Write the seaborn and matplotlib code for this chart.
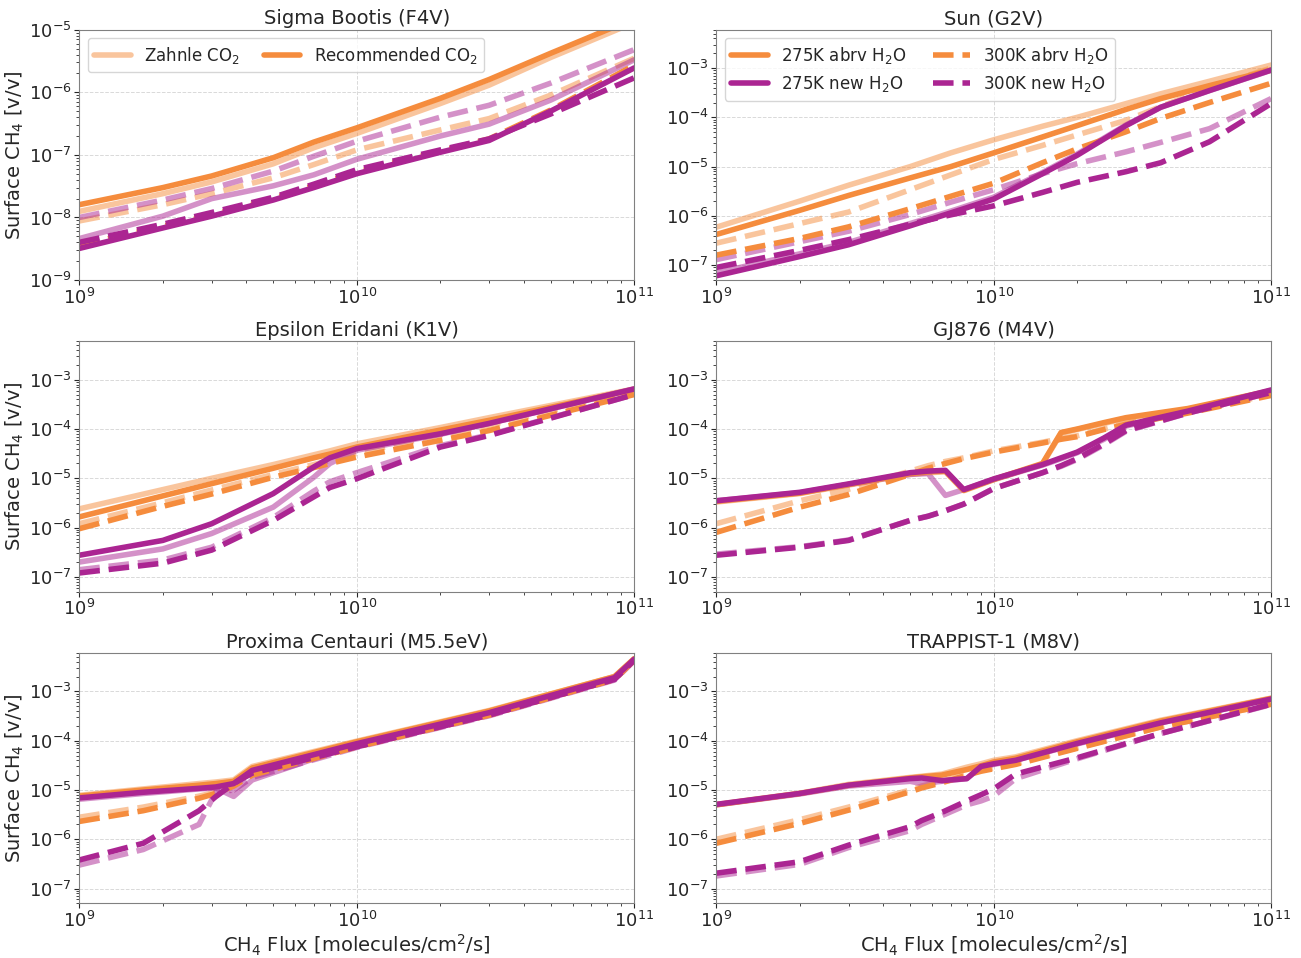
import numpy as np
import pandas as pd
import matplotlib
matplotlib.use("Agg")
import matplotlib.pyplot as plt
from matplotlib.lines import Line2D
import seaborn as sns

# ---- data ----
# series key: z/r = Zahnle / Recommended CO2, 275/300 K, a/n = abrv / new H2O

sb_x = [1e9, 2e9, 3e9, 5e9, 7e9, 1e10, 2e10, 3e10, 5e10, 1e11]
sb_z275a = [1.25e-8, 2.4e-8, 3.7e-8, 7.2e-8, 1.3e-7, 2.2e-7, 6.6e-7, 1.3e-6, 3.6e-6, 1.3e-5]
sb_z300a = [8.8e-9, 1.6e-8, 2.4e-8, 4.3e-8, 7.0e-8, 1.2e-7, 2.5e-7, 3.8e-7, 9.0e-7, 3.5e-6]
sb_z275n = [4.6e-9, 1.05e-8, 2.0e-8, 3.2e-8, 4.8e-8, 8.5e-8, 2.0e-7, 3.1e-7, 7.5e-7, 3.3e-6]
sb_z300n = [1.0e-8, 1.9e-8, 2.9e-8, 5.5e-8, 9.5e-8, 1.65e-7, 4.0e-7, 6.2e-7, 1.4e-6, 4.8e-6]
sb_r275a = [1.6e-8, 3.0e-8, 4.6e-8, 9.0e-8, 1.6e-7, 2.7e-7, 8.0e-7, 1.6e-6, 4.2e-6, 1.5e-5]
sb_r300a = [3.6e-9, 7.2e-9, 1.1e-8, 2.0e-8, 3.2e-8, 5.3e-8, 1.15e-7, 1.8e-7, 5.2e-7, 2.7e-6]
sb_r275n = [3.2e-9, 6.8e-9, 1.05e-8, 1.9e-8, 3.0e-8, 5.0e-8, 1.1e-7, 1.7e-7, 5.0e-7, 2.45e-6]
sb_r300n = [4.0e-9, 7.8e-9, 1.2e-8, 2.1e-8, 3.4e-8, 5.8e-8, 1.2e-7, 1.8e-7, 4.5e-7, 1.7e-6]

sun_x = [1e9, 2e9, 3e9, 5e9, 7e9, 1e10, 1.5e10, 2e10, 3e10, 4e10, 6e10, 1e11]
sun_z275a = [5.9e-7, 2.0e-6, 4.2e-6, 1.0e-5, 1.9e-5, 3.5e-5, 6.6e-5, 1.0e-4, 1.9e-4, 3.0e-4, 5.4e-4, 1.15e-3]
sun_z300a = [2.8e-7, 7.0e-7, 1.2e-6, 3.4e-6, 6.8e-6, 1.4e-5, 2.7e-5, 4.4e-5, 8.7e-5, 1.65e-4, 4.0e-4, 1.0e-3]
sun_z275n = [7.0e-8, 1.7e-7, 2.9e-7, 7.0e-7, 1.25e-6, 2.4e-6, 7.6e-6, 1.8e-5, 7.0e-5, 1.6e-4, 3.5e-4, 9.0e-4]
sun_z300n = [1.3e-7, 3.0e-7, 4.9e-7, 1.07e-6, 1.9e-6, 3.4e-6, 7.2e-6, 1.15e-5, 2.0e-5, 3.1e-5, 5.9e-5, 2.4e-4]
sun_r275a = [4.2e-7, 1.3e-6, 2.6e-6, 5.9e-6, 1.0e-5, 1.9e-5, 4.0e-5, 6.8e-5, 1.45e-4, 2.4e-4, 4.4e-4, 9.1e-4]
sun_r300a = [1.6e-7, 3.5e-7, 6.0e-7, 1.4e-6, 2.5e-6, 4.6e-6, 1.2e-5, 2.3e-5, 5.1e-5, 9.5e-5, 2.0e-4, 4.9e-4]
sun_r275n = [6.1e-8, 1.5e-7, 2.6e-7, 6.3e-7, 1.15e-6, 2.2e-6, 7.2e-6, 1.7e-5, 6.8e-5, 1.6e-4, 3.5e-4, 9.1e-4]
sun_r300n = [9.0e-8, 2.0e-7, 3.3e-7, 6.8e-7, 1.05e-6, 1.6e-6, 3.0e-6, 4.8e-6, 7.9e-6, 1.2e-5, 3.2e-5, 1.9e-4]

eps_x = [1e9, 2e9, 3e9, 5e9, 7e9, 8e9, 1e10, 2e10, 3e10, 1e11]
eps_z275a = [2.4e-6, 5.9e-6, 1.0e-5, 1.9e-5, 3.0e-5, 3.6e-5, 5.0e-5, 1.07e-4, 1.7e-4, 6.5e-4]
eps_z300a = [1.2e-6, 3.2e-6, 5.8e-6, 1.2e-5, 1.9e-5, 2.3e-5, 3.2e-5, 7.6e-5, 1.2e-4, 5.5e-4]
eps_z275n = [2.0e-7, 3.7e-7, 7.6e-7, 2.6e-6, 1.05e-5, 2.0e-5, 3.7e-5, 7.8e-5, 1.3e-4, 6.5e-4]
eps_z300n = [1.4e-7, 2.2e-7, 4.0e-7, 1.6e-6, 5.5e-6, 8.5e-6, 1.3e-5, 4.6e-5, 7.6e-5, 5.0e-4]
eps_r275a = [1.65e-6, 4.4e-6, 7.8e-6, 1.6e-5, 2.6e-5, 3.1e-5, 4.3e-5, 9.5e-5, 1.5e-4, 6.3e-4]
eps_r300a = [9.5e-7, 2.7e-6, 4.8e-6, 1.05e-5, 1.65e-5, 2.0e-5, 2.7e-5, 5.9e-5, 9.3e-5, 5.0e-4]
eps_r275n = [2.75e-7, 5.5e-7, 1.2e-6, 4.9e-6, 1.7e-5, 2.6e-5, 4.0e-5, 8.0e-5, 1.3e-4, 6.5e-4]
eps_r300n = [1.2e-7, 1.9e-7, 3.5e-7, 1.4e-6, 4.2e-6, 6.5e-6, 9.8e-6, 4.3e-5, 7.4e-5, 5.0e-4]

gj_x = [1e9, 2e9, 3e9, 5e9, 5.8e9, 6.7e9, 7.8e9, 1e10, 1.5e10, 1.75e10, 2e10, 2.5e10, 3e10, 5e10, 1e11]
gj_z275a = [3.3e-6, 4.9e-6, 7.3e-6, 1.2e-5, 1.3e-5, 1.35e-5, 5.6e-6, 9.3e-6, 1.95e-5, 8.2e-5, 9.8e-5, 1.3e-4, 1.65e-4, 2.5e-4, 5.9e-4]
gj_z300a = [1.2e-6, 3.5e-6, 6.0e-6, 1.4e-5, 1.8e-5, 2.2e-5, 2.6e-5, 3.6e-5, 5.4e-5, 6.4e-5, 7.3e-5, 1.0e-4, 1.3e-4, 2.2e-4, 5.0e-4]
gj_z275n = [3.5e-6, 5.1e-6, 7.5e-6, 1.2e-5, 1.25e-5, 4.5e-6, 5.9e-6, 9.5e-6, 1.85e-5, 2.5e-5, 3.3e-5, 6.2e-5, 1.15e-4, 2.3e-4, 6.0e-4]
gj_z300n = [2.9e-7, 4.1e-7, 5.6e-7, 1.4e-6, 1.7e-6, 2.2e-6, 3.0e-6, 6.2e-6, 1.3e-5, 1.75e-5, 2.4e-5, 4.8e-5, 9.0e-5, 2.1e-4, 5.5e-4]
gj_r275a = [3.4e-6, 5.0e-6, 7.5e-6, 1.25e-5, 1.35e-5, 1.4e-5, 5.7e-6, 9.5e-6, 2.0e-5, 8.5e-5, 1.0e-4, 1.35e-4, 1.7e-4, 2.6e-4, 6.0e-4]
gj_r300a = [8.0e-7, 2.6e-6, 4.7e-6, 1.2e-5, 1.6e-5, 2.0e-5, 2.5e-5, 3.4e-5, 5.2e-5, 6.2e-5, 7.0e-5, 9.8e-5, 1.25e-4, 2.1e-4, 4.8e-4]
gj_r275n = [3.5e-6, 5.2e-6, 7.7e-6, 1.3e-5, 1.4e-5, 1.45e-5, 5.9e-6, 9.7e-6, 1.9e-5, 2.6e-5, 3.4e-5, 6.6e-5, 1.2e-4, 2.3e-4, 6.2e-4]
gj_r300n = [2.75e-7, 4.0e-7, 5.5e-7, 1.4e-6, 1.7e-6, 2.2e-6, 3.0e-6, 6.2e-6, 1.3e-5, 1.8e-5, 2.5e-5, 5.0e-5, 9.3e-5, 2.1e-4, 5.5e-4]

prox_x = [1e9, 1.7e9, 2.7e9, 3.1e9, 3.6e9, 4.2e9, 1e10, 3e10, 8.5e10, 1e11]
prox_z275a = [7.8e-6, 1.05e-5, 1.35e-5, 1.45e-5, 1.6e-5, 3.0e-5, 9.8e-5, 4.1e-4, 2.0e-3, 4.6e-3]
prox_z300a = [2.8e-6, 4.5e-6, 7.5e-6, 9.0e-6, 1.3e-5, 2.1e-5, 7.6e-5, 3.3e-4, 1.75e-3, 4.3e-3]
prox_z275n = [6.5e-6, 8.5e-6, 1.05e-5, 1.1e-5, 7.4e-6, 1.6e-5, 8.5e-5, 3.6e-4, 1.85e-3, 4.4e-3]
prox_z300n = [3.0e-7, 6.2e-7, 2.0e-6, 9.0e-6, 1.0e-5, 1.8e-5, 7.3e-5, 3.2e-4, 1.7e-3, 4.2e-3]
prox_r275a = [7.5e-6, 1.0e-5, 1.25e-5, 1.35e-5, 1.5e-5, 2.8e-5, 9.5e-5, 4.0e-4, 2.0e-3, 4.6e-3]
prox_r300a = [2.3e-6, 3.8e-6, 6.8e-6, 8.5e-6, 1.2e-5, 2.0e-5, 7.5e-5, 3.3e-4, 1.75e-3, 4.3e-3]
prox_r275n = [6.9e-6, 9.0e-6, 1.08e-5, 1.15e-5, 1.35e-5, 2.5e-5, 8.7e-5, 3.7e-4, 1.9e-3, 4.5e-3]
prox_r300n = [3.8e-7, 8.3e-7, 3.8e-6, 7.3e-6, 1.35e-5, 2.2e-5, 7.5e-5, 3.3e-4, 1.75e-3, 4.3e-3]

trap_x = [1e9, 2e9, 3e9, 5e9, 5.5e9, 6.5e9, 8e9, 9e9, 1e10, 1.2e10, 2e10, 4e10, 1e11]
trap_z275a = [5.1e-6, 8.6e-6, 1.3e-5, 1.8e-5, 1.9e-5, 2.1e-5, 2.9e-5, 3.4e-5, 4.0e-5, 4.7e-5, 1.0e-4, 2.6e-4, 7.3e-4]
trap_z300a = [1.0e-6, 2.5e-6, 4.5e-6, 1.0e-5, 1.2e-5, 1.5e-5, 2.1e-5, 2.5e-5, 2.8e-5, 3.4e-5, 7.2e-5, 1.9e-4, 5.5e-4]
trap_z275n = [5.0e-6, 8.3e-6, 1.2e-5, 1.5e-5, 1.35e-5, 1.5e-5, 1.7e-5, 2.9e-5, 3.3e-5, 4.0e-5, 8.6e-5, 2.3e-4, 7.0e-4]
trap_z300n = [1.8e-7, 3.1e-7, 6.8e-7, 1.5e-6, 2.0e-6, 3.0e-6, 5.0e-6, 6.0e-6, 7.5e-6, 1.7e-5, 4.3e-5, 1.4e-4, 5.4e-4]
trap_r275a = [5.0e-6, 8.5e-6, 1.25e-5, 1.75e-5, 1.85e-5, 2.0e-5, 2.6e-5, 3.1e-5, 3.7e-5, 4.4e-5, 9.5e-5, 2.5e-4, 7.2e-4]
trap_r300a = [8.3e-7, 2.1e-6, 3.9e-6, 9.2e-6, 1.1e-5, 1.4e-5, 2.0e-5, 2.4e-5, 2.7e-5, 3.3e-5, 7.0e-5, 1.9e-4, 5.5e-4]
trap_r275n = [5.1e-6, 8.5e-6, 1.25e-5, 1.7e-5, 1.75e-5, 1.55e-5, 1.7e-5, 3.0e-5, 3.4e-5, 4.0e-5, 8.8e-5, 2.3e-4, 7.0e-4]
trap_r300n = [2.05e-7, 3.5e-7, 7.6e-7, 1.8e-6, 2.4e-6, 3.5e-6, 6.0e-6, 8.0e-6, 1.05e-5, 2.1e-5, 4.5e-5, 1.4e-4, 5.5e-4]

titles = ["Sigma Bootis (F4V)", "Sun (G2V)", "Epsilon Eridani (K1V)",
          "GJ876 (M4V)", "Proxima Centauri (M5.5eV)", "TRAPPIST-1 (M8V)"]

panels = [
    (sb_x, {"z275a": sb_z275a, "z300a": sb_z300a, "z275n": sb_z275n, "z300n": sb_z300n,
            "r275a": sb_r275a, "r300a": sb_r300a, "r275n": sb_r275n, "r300n": sb_r300n}),
    (sun_x, {"z275a": sun_z275a, "z300a": sun_z300a, "z275n": sun_z275n, "z300n": sun_z300n,
             "r275a": sun_r275a, "r300a": sun_r300a, "r275n": sun_r275n, "r300n": sun_r300n}),
    (eps_x, {"z275a": eps_z275a, "z300a": eps_z300a, "z275n": eps_z275n, "z300n": eps_z300n,
             "r275a": eps_r275a, "r300a": eps_r300a, "r275n": eps_r275n, "r300n": eps_r300n}),
    (gj_x, {"z275a": gj_z275a, "z300a": gj_z300a, "z275n": gj_z275n, "z300n": gj_z300n,
            "r275a": gj_r275a, "r300a": gj_r300a, "r275n": gj_r275n, "r300n": gj_r300n}),
    (prox_x, {"z275a": prox_z275a, "z300a": prox_z300a, "z275n": prox_z275n, "z300n": prox_z300n,
              "r275a": prox_r275a, "r300a": prox_r300a, "r275n": prox_r275n, "r300n": prox_r300n}),
    (trap_x, {"z275a": trap_z275a, "z300a": trap_z300a, "z275n": trap_z275n, "z300n": trap_z300n,
              "r275a": trap_r275a, "r300a": trap_r300a, "r275n": trap_r275n, "r300n": trap_r300n}),
]

orange = "#F58C3D"
purple = "#AB2592"
h2o_color = {"a": orange, "n": purple}
temp_style = {"275": "-", "300": "--"}
co2_alpha = {"z": 0.5, "r": 1.0}
lw = 4

sns.set_style("ticks", {"xtick.major.size": 3.5, "ytick.major.size": 3.5,
                        "xtick.minor.size": 2, "ytick.minor.size": 2})
plt.rcParams["font.family"] = ["DejaVu Sans"]

fig, axes = plt.subplots(3, 2, figsize=(13.01, 9.58), dpi=100)
fig.subplots_adjust(left=0.061, right=0.977, top=0.969, bottom=0.057,
                    wspace=0.148, hspace=0.245)

for i, ax in enumerate(axes.flat):
    x, series = panels[i]
    for co2 in ["z", "r"]:
        for h2o in ["a", "n"]:
            for temp in ["275", "300"]:
                y = series[co2 + temp + h2o]
                sns.lineplot(x=x, y=y, ax=ax, color=h2o_color[h2o],
                             linestyle=temp_style[temp], linewidth=lw,
                             alpha=co2_alpha[co2], sort=False)
    ax.set_xscale("log")
    ax.set_yscale("log")
    ax.set_xlim(1e9, 1e11)
    if i == 0:
        ax.set_ylim(1e-9, 1e-5)
    else:
        ax.set_ylim(5e-8, 6e-3)
        ax.set_yticks([1e-7, 1e-6, 1e-5, 1e-4, 1e-3])
    ax.grid(True, which="major", linestyle="--", linewidth=0.7, color="0.85")
    ax.set_title(titles[i], fontsize=14, pad=4)
    ax.tick_params(axis="both", which="major", labelsize=13, pad=2)
    for sp in ax.spines.values():
        sp.set_color("0.5")
    if i % 2 == 0:
        ax.set_ylabel("Surface CH$_4$ [v/v]", fontsize=14, labelpad=2)
    if i >= 4:
        ax.set_xlabel("CH$_4$ Flux [molecules/cm$^2$/s]", fontsize=14, labelpad=1)

# legends
co2_handles = [Line2D([], [], color=orange, alpha=0.5, lw=lw),
               Line2D([], [], color=orange, lw=lw)]
axes[0, 0].legend(co2_handles, ["Zahnle CO$_2$", "Recommended CO$_2$"],
                  loc="upper left", ncol=2, fontsize=12, handlelength=2.2,
                  columnspacing=1.4)

h2o_handles = [Line2D([], [], color=orange, lw=lw, ls="-"),
               Line2D([], [], color=purple, lw=lw, ls="-"),
               Line2D([], [], color=orange, lw=lw, ls="--"),
               Line2D([], [], color=purple, lw=lw, ls="--")]
axes[0, 1].legend(h2o_handles, ["275K abrv H$_2$O", "275K new H$_2$O",
                                "300K abrv H$_2$O", "300K new H$_2$O"],
                  loc="upper left", ncol=2, fontsize=12, handlelength=2.2,
                  columnspacing=1.6)

fig.savefig("out.png", dpi=100)
